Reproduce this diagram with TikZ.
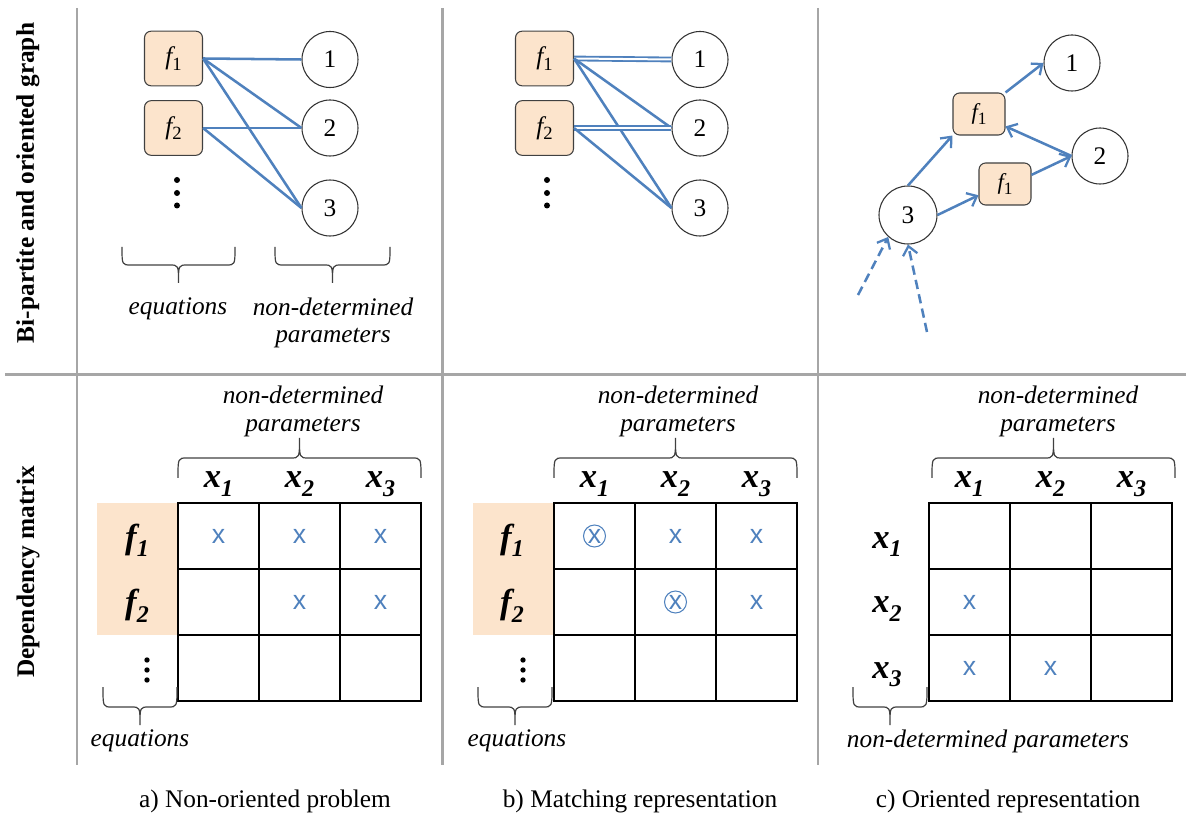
\documentclass[tikz,border=0pt]{standalone}
\usepackage{fontspec}
\setmainfont{Liberation Serif}
\newfontfamily\sansx{Liberation Sans}
\usetikzlibrary{arrows.meta}
\definecolor{lblue}{HTML}{4F81BD}
\definecolor{peach}{HTML}{FCE4CC}
\definecolor{sepgray}{HTML}{A6A6A6}
\newcommand\msub[2]{#1\raisebox{-0.25em}{\fontsize{18}{18}\selectfont #2}}
\newcommand\fsub[2]{{\itshape f}\raisebox{-0.22em}{\fontsize{#2}{#2}\selectfont #1}}
% horizontal brace: x1, x2, y ends, y middle, y tip
\newcommand\hbrace[5]{%
  \draw[brc] (#1,#3) .. controls (#1,#4) .. ({#1+9},#4) -- ({(#1+#2)/2-9},#4)
    .. controls ({(#1+#2)/2},#4) .. ({(#1+#2)/2},#5)
    .. controls ({(#1+#2)/2},#4) .. ({(#1+#2)/2+9},#4) -- ({#2-9},#4)
    .. controls (#2,#4) .. (#2,#3);}
\newcommand\matgrid[1]{%
  \draw[gridline] (#1,503) rectangle ({#1+243},701);
  \draw[gridline] ({#1+81},503) -- ({#1+81},701) ({#1+162},503) -- ({#1+162},701)
    (#1,569) -- ({#1+243},569) (#1,635) -- ({#1+243},635);}
\tikzset{
  eqbox/.style={draw=black!75, fill=peach, rounded corners=5pt, minimum width=43.5pt,
    minimum height=41pt, inner sep=0pt, line width=0.8pt, font=\fontsize{19}{19}\selectfont},
  eqsmall/.style={eqbox, minimum width=39pt, minimum height=31.5pt, font=\fontsize{17}{17}\selectfont},
  varnode/.style={draw=black!80, circle, minimum size=42pt, inner sep=0pt, line width=0.8pt,
    font=\fontsize{19}{19}\selectfont},
  link/.style={draw=lblue, line width=1.9pt},
  matchlink/.style={draw=lblue, line width=1.4pt, double=white, double distance=1.5pt},
  arr/.style={link, -{Straight Barb[length=6.5pt,width=11pt,line width=1.7pt]}},
  darr/.style={arr, dash pattern=on 7pt off 4pt},
  lab/.style={font=\fontsize{19}{22}\selectfont\itshape, inner sep=0pt, align=center},
  captext/.style={font=\fontsize{19}{22}\selectfont, inner sep=0pt},
  rowlab/.style={font=\fontsize{19}{22}\selectfont\bfseries, rotate=90, inner sep=0pt},
  mlab/.style={font=\fontsize{26}{26}\selectfont\bfseries\itshape, inner sep=0pt, anchor=base},
  cellx/.style={text=lblue, font=\sansx\fontsize{20}{20}\selectfont, inner sep=0pt},
  cellm/.style={cellx, draw=lblue, circle, line width=0.8pt, minimum size=16.5pt},
  gridline/.style={black, line width=1.1pt},
  brc/.style={draw=black!75, line width=0.9pt},
  sepline/.style={draw=sepgray, line width=1.6pt},
  ellipsisdot/.style={circle, fill=black, inner sep=0pt, minimum size=4.5pt},
  smalldot/.style={circle, fill=black, inner sep=0pt, minimum size=4pt},
}
\begin{document}
\begin{tikzpicture}[x=0.75pt,y=-0.75pt]
\useasboundingbox (0,0) rectangle (1186,816);
% separators
\draw[sepline] (77,8) -- (77,765);
\draw[sepline] (442.5,8) -- (442.5,765);
\draw[sepline] (818,8) -- (818,765);
\draw[sepline] (5,374.5) -- (1186,374.5);
% row labels
\node[rowlab] (rl1) at (28,183) {Bi-partite and oriented graph};
\node[rowlab] (rl2) at (28,572) {Dependency matrix};

% ---------- panel a, graph
\node[eqbox] (af1) at (173.5,58.5) {\fsub{1}{14}};
\node[eqbox] (af2) at (173.5,128) {\fsub{2}{14}};
\node[varnode] (a1) at (330,59.5) {1};
\node[varnode] (a2) at (330,128) {2};
\node[varnode] (a3) at (330,208) {3};
\draw[link] (af1.east) -- (a1.west);
\draw[link] (af1.east) -- (a2.west);
\draw[link] (af1.east) -- (a3.west);
\draw[link] (af2.east) -- (a2.west);
\draw[link] (af2.east) -- (a3.west);
\node[ellipsisdot] (ad1) at (177,180) {};
\node[ellipsisdot] (ad2) at (177,193) {};
\node[ellipsisdot] (ad3) at (177,205.5) {};
\hbrace{122}{235}{247}{265}{283}
\hbrace{275}{390}{247}{265}{283}
\node[lab] (aeq) at (178,309) {equations};
\node[lab] (andp) at (333,307) {non-determined};
\node[lab] (apar) at (333,338) {parameters};

% ---------- panel b, graph
\node[eqbox] (bf1) at (544.5,58.5) {\fsub{1}{14}};
\node[eqbox] (bf2) at (544.5,128) {\fsub{2}{14}};
\node[varnode] (b1) at (700,59.5) {1};
\node[varnode] (b2) at (700,128) {2};
\node[varnode] (b3) at (700,208) {3};
\draw[matchlink] (bf1.east) -- (b1.west);
\draw[link] (bf1.east) -- (b2.west);
\draw[link] (bf1.east) -- (b3.west);
\draw[matchlink] (bf2.east) -- (b2.west);
\draw[link] (bf2.east) -- (b3.west);
\node[ellipsisdot] (bd1) at (547,180) {};
\node[ellipsisdot] (bd2) at (547,193) {};
\node[ellipsisdot] (bd3) at (547,205.5) {};

% ---------- panel c, graph
\node[eqsmall] (cg1) at (979,114) {\fsub{1}{13}};
\node[eqsmall] (cg2) at (1005,184) {\fsub{1}{13}};
\node[varnode] (cc1) at (1072,63) {1};
\node[varnode] (cc2) at (1100,156) {2};
\node[varnode, minimum size=43.5pt] (cc3) at (908,215) {3};
\coordinate (cin1) at (858,295);
\coordinate (cin2) at (927,332);
\draw[arr] (cg1.north east) -- (cc1.west);
\draw[arr] (cc2.west) -- (cg1.-25);
\draw[arr] (cc3.north) -- (cg1.south west);
\draw[arr] (cc3.east) -- (cg2.203);
\draw[arr] (cg2.19) -- (cc2.west);
\draw[darr] (cin1) -- (cc3.228);
\draw[darr] (cin2) -- (cc3.south);

% ---------- panel a, matrix
\fill[peach] (97,503) rectangle (178,635);
\matgrid{178}
\node[mlab] (ax1) at (218.5,488) {\msub{x}{1}};
\node[mlab] (ax2) at (299.5,488) {\msub{x}{2}};
\node[mlab] (ax3) at (380.5,488) {\msub{x}{3}};
\node[mlab] (ar1) at (137,548) {\msub{f}{1}};
\node[mlab] (ar2) at (137,614) {\msub{f}{2}};
\node[smalldot] (am1) at (147,660) {};
\node[smalldot] (am2) at (147,670) {};
\node[smalldot] (am3) at (147,680) {};
\node[cellx] (a11) at (218.5,536) {x};
\node[cellx] (a12) at (299.5,536) {x};
\node[cellx] (a13) at (380.5,536) {x};
\node[cellx] (a22) at (299.5,602) {x};
\node[cellx] (a23) at (380.5,602) {x};
\hbrace{178}{421}{478}{458}{438}
\node[lab] (mandp) at (303,395) {non-determined};
\node[lab] (mapar) at (303,427) {parameters};
\hbrace{103}{177}{687}{707}{725}
\node[lab] (maeq) at (140,741) {equations};

% ---------- panel b, matrix
\fill[peach] (473,503) rectangle (554,635);
\matgrid{554}
\node[mlab] (bx1) at (594.5,488) {\msub{x}{1}};
\node[mlab] (bx2) at (675.5,488) {\msub{x}{2}};
\node[mlab] (bx3) at (756.5,488) {\msub{x}{3}};
\node[mlab] (br1) at (512,548) {\msub{f}{1}};
\node[mlab] (br2) at (512,614) {\msub{f}{2}};
\node[smalldot] (bm1) at (523,660) {};
\node[smalldot] (bm2) at (523,670) {};
\node[smalldot] (bm3) at (523,680) {};
\node[cellm] (b11) at (594.5,536) {x};
\node[cellx] (b12) at (675.5,536) {x};
\node[cellx] (b13) at (756.5,536) {x};
\node[cellm] (b22) at (675.5,602) {x};
\node[cellx] (b23) at (756.5,602) {x};
\hbrace{554}{797}{478}{458}{438}
\node[lab] (mbndp) at (678,395) {non-determined};
\node[lab] (mbpar) at (678,427) {parameters};
\hbrace{478}{552}{687}{707}{725}
\node[lab] (mbeq) at (517,741) {equations};

% ---------- panel c, matrix
\matgrid{929}
\node[mlab] (cx1) at (969.5,488) {\msub{x}{1}};
\node[mlab] (cx2) at (1050.5,488) {\msub{x}{2}};
\node[mlab] (cx3) at (1131.5,488) {\msub{x}{3}};
\node[mlab] (cr1) at (887,548) {\msub{x}{1}};
\node[mlab] (cr2) at (887,613) {\msub{x}{2}};
\node[mlab] (cr3) at (887,678) {\msub{x}{3}};
\node[cellx] (c21) at (969.5,602) {x};
\node[cellx] (c31) at (969.5,668) {x};
\node[cellx] (c32) at (1050.5,668) {x};
\hbrace{932}{1175}{478}{458}{438}
\node[lab] (mcndp) at (1058,395) {non-determined};
\node[lab] (mcpar) at (1058,427) {parameters};
\hbrace{853}{927}{687}{707}{725}
\node[lab] (mceq) at (988,741) {non-determined parameters};

% captions
\node[captext] (capa) at (265,801) {a) Non-oriented problem};
\node[captext] (capb) at (640,801) {b) Matching representation};
\node[captext] (capc) at (1008,801) {c) Oriented representation};
\end{tikzpicture}
\end{document}
